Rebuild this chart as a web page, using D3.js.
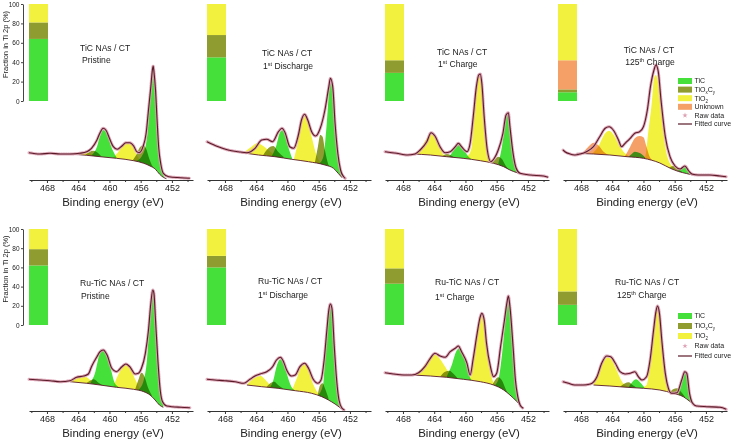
<!DOCTYPE html>
<html>
<head>
<meta charset="utf-8">
<script src="https://cdn.jsdelivr.net/npm/d3@7"></script>
<style>
  body { margin: 0; background: #fff; }
  svg { display: block; font-family: "Liberation Sans", Arial, sans-serif; }
</style>
</head>
<body>
<svg id="chart" width="733" height="440"></svg>
<script>

// ---------- data ----------

const samples = ["TiC NAs / CT", "TiC NAs / CT", "TiC NAs / CT", "TiC NAs / CT",
                 "Ru-TiC NAs / CT", "Ru-TiC NAs / CT", "Ru-TiC NAs / CT", "Ru-TiC NAs / CT"]
const states = ["Pristine", "1^{st} Discharge", "1^{st} Charge", "125^{th} Charge",
                "Pristine", "1^{st} Discharge", "1^{st} Charge", "125^{th} Charge"]

// phase fractions in Ti 2p (%)
const fracTiC     = [64, 45, 29,  9, 62, 60, 43, 21]
const fracTiOxCy  = [17, 23, 13,  3, 17, 12, 16, 14]
const fracUnknown = [ 0,  0,  0, 30,  0,  0,  0,  0]
const fracTiO2    = [19, 32, 58, 58, 21, 28, 41, 65]

const majorTicks = [468, 464, 460, 456, 452]
const minorTicks = [470, 466, 462, 458, 454, 450]
const fractionTicks = [0, 20, 40, 60, 80, 100]

// fitted envelope, [binding energy (eV), intensity (a.u.)]
const fitCurves = [
  [[470.3,27.3],[468.9,26],[467.6,26.7],[466.3,26],[465.0,26],[463.8,26.7],[462.9,28.3],[462.3,31.7],[461.6,40],[461.2,47.3],[460.8,51.7],[460.4,49.3],[460.0,41.7],[459.5,33.3],[459.0,30.7],[458.4,34],[457.9,37.3],[457.4,37.3],[456.9,34],[456.5,28.3],[456.2,27.3],[455.7,33.3],[455.3,46.7],[455.0,70],[454.7,93.3],[454.5,110],[454.4,114],[454.3,108.3],[454.1,90],[453.9,60],[453.7,33.3],[453.4,15],[453.1,6.7],[452.4,3.3],[450.9,2.3],[449.7,1.7]],
  [[470.3,38.3],[468.85,33.3],[467.6,30],[466.3,28.3],[465.2,27.3],[464.15,31.7],[463.3,40],[462.65,40.7],[461.9,38.3],[461.15,48.3],[460.7,51.7],[460.3,47.3],[459.7,33.3],[459.2,31.7],[458.6,45],[458.2,60],[457.8,65.7],[457.4,60],[456.9,48.3],[456.4,44],[455.8,51.7],[455.2,70],[454.7,93.3],[454.5,101.7],[454.2,93.3],[453.9,56.7],[453.55,26.7],[453.2,10],[452.8,3.3],[452.6,1.7]],
  [[470.3,28.3],[468.8,26.7],[467.5,25],[466.45,26],[465.8,30],[464.95,38.3],[464.4,47.3],[463.9,44],[463.25,33.3],[462.6,27.3],[461.95,28.3],[461.3,33.3],[460.9,36.7],[460.5,33.3],[459.8,28.3],[459.4,36.7],[459.0,63.3],[458.6,93.3],[458.3,105],[458.1,106],[457.9,96.7],[457.6,63.3],[457.2,30],[456.75,18.3],[456.3,21.7],[455.8,30],[455.2,46.7],[454.8,65],[454.5,67.3],[454.3,53.3],[453.9,26.7],[453.5,11.7],[453.0,6.7],[451.7,5],[450.0,4],[449.4,2.7]],
  [[470.3,30],[470.05,28.3],[469.4,26],[468.8,25],[468.1,26],[467.3,28.3],[466.4,33.3],[465.6,43.3],[464.9,51.7],[464.4,53.3],[463.8,49.3],[463.2,40],[462.8,33.3],[462.35,36.7],[461.7,41.7],[461.1,46.7],[460.5,48.3],[460.0,53.3],[459.5,70],[459.1,93.3],[458.65,110],[458.4,115],[458.1,108.3],[457.75,80],[457.2,43.3],[456.6,23.3],[455.95,14],[455.3,11],[454.7,14],[454.2,9],[453.8,6],[452.95,5],[451.5,5],[450.2,4],[449.4,3.3]],
  [[470.3,31.7],[468.9,31],[467.6,30.3],[466.3,29.3],[465.05,30.3],[464.2,33.7],[463.3,35],[462.7,37],[462.3,44.3],[461.6,54.3],[461.2,59.3],[460.8,61],[460.3,56],[459.7,42.7],[459.1,39.3],[458.4,44.3],[457.9,47],[457.4,44.3],[456.7,37],[456.3,37.7],[455.9,42.7],[455.4,57.7],[455.0,81],[454.7,107.7],[454.45,121],[454.3,117.7],[454.1,91],[453.8,51],[453.5,21],[453.2,9.3],[452.65,5],[450.9,3.7],[449.7,3.3]],
  [[470.3,31.7],[469.3,31],[468.0,30.3],[466.7,29.3],[465.6,27.7],[464.8,31.7],[464.15,35],[463.5,37],[462.65,39.3],[461.9,44.3],[461.4,51],[460.9,53.7],[460.5,49.3],[460.1,41],[459.5,35],[459.0,36],[458.4,44.3],[457.8,47.7],[457.3,42.7],[456.7,31.7],[456.1,27.7],[455.7,31],[455.3,51],[454.95,81],[454.7,101],[454.5,107],[454.3,102.7],[454.0,64.3],[453.7,31],[453.4,11],[453.0,2.7],[452.7,1]],
  [[470.3,38.3],[469.2,37],[467.9,36],[466.9,36],[466.0,38.3],[465.2,44.3],[464.5,52.7],[463.9,57.7],[463.25,55],[462.6,53.7],[461.95,59.3],[461.3,62.7],[460.9,65],[460.5,59.3],[459.8,47.7],[459.4,36],[459.0,52.7],[458.5,77.7],[458.1,94.3],[457.9,97.7],[457.6,91],[457.3,67.7],[456.8,44.3],[456.4,34.3],[456.0,37.7],[455.5,64.3],[455.0,91],[454.7,107.7],[454.5,115],[454.3,104.3],[453.9,64.3],[453.6,31],[453.3,14.3],[453.0,6],[452.6,2.7]],
  [[470.3,29.3],[469.6,27.7],[468.8,26],[467.7,26],[466.8,27],[465.95,34.3],[465.35,47.7],[464.7,55],[464.2,54.3],[463.6,47.7],[463.0,39.3],[462.35,37],[461.7,37.7],[461.1,39.3],[460.65,34.3],[460.2,31],[459.6,34.3],[459.15,51],[458.7,81],[458.4,99.3],[458.2,105],[457.95,97.7],[457.65,71],[457.2,37.7],[456.8,22.7],[456.4,17.7],[455.7,18.3],[455.1,31],[454.7,39.3],[454.45,37.7],[454.1,17.7],[453.7,7.7],[453.2,5],[451.9,4.3],[450.2,3.7],[449.4,1.7]]
]

// Shirley backgrounds
const backgrounds = [
  [[465.0,26],[462.9,24.7],[461.2,23.3],[459.1,21.7],[456.9,19.3],[455.6,16.7],[454.8,14],[454.1,10.7],[453.6,6],[453.1,2.7],[452.7,1.3]],
  [[465.9,27.3],[463.7,25],[461.6,23.3],[459.45,20.7],[457.3,18.3],[455.2,15],[454.1,11.7],[453.5,6.7],[453.0,2.3]],
  [[466.7,26],[464.5,25],[462.4,23.3],[460.3,21.7],[458.1,19.3],[456.4,16.7],[455.1,13.3],[454.3,10],[453.4,7.3],[452.8,6]],
  [[468.55,26.7],[466.4,26],[464.3,25],[462.1,23.3],[460.0,21.7],[457.9,17],[456.5,11.5],[455.5,8.5],[454.5,6.5],[453.8,5.3],[453.2,5]],
  [[465.05,29.3],[462.9,27.7],[461.2,26],[459.1,23.7],[456.9,21.7],[455.6,19.3],[454.8,16],[454.15,11],[453.6,6],[453.1,3.7]],
  [[465.2,26],[463.3,24.3],[461.2,22.7],[459.0,20.3],[456.9,17.7],[455.6,14.3],[454.75,11],[453.9,7],[453.25,3.3],[452.8,1]],
  [[466.7,36],[464.5,35],[462.4,33.7],[460.25,31.7],[458.1,29.3],[456.4,26],[455.1,21],[454.3,16],[453.4,9.3],[452.8,3.7]],
  [[466.4,26],[464.3,25],[462.1,23.7],[460.0,22.7],[457.9,21],[456.2,17.7],[454.9,14.3],[454.0,9.3],[453.4,6]]
]

// fitted components per panel: [phase, envelope points]
const components = [
  [["TiO2",[[465.0,25.7],[464.0,27.3],[463.1,27.7],[462.3,26],[461.6,24]]],
   ["TiOxCy",[[463.1,25],[462.5,28.3],[462.1,29.3],[461.5,27.3],[461.0,23.3]]],
   ["TiC",[[462.3,24.7],[461.6,33.3],[461.2,44],[460.8,50],[460.3,46.7],[459.8,34],[459.1,22.7]]],
   ["TiO2",[[459.7,21.3],[459.0,26.7],[458.3,34],[457.7,37.3],[457.1,34.7],[456.5,25],[455.9,17.7]]],
   ["TiOxCy",[[457.1,19],[456.5,26],[456.1,32.7],[455.7,34.7],[455.3,31.3],[454.9,21.3],[454.3,11]]],
   ["TiC",[[456.7,18.7],[455.9,23.3],[455.3,36.7],[454.9,70],[454.7,100],[454.4,112.7],[454.3,106.7],[454.1,83.3],[453.9,46.7],[453.6,20],[453.2,6.7],[452.9,2]]]],
  [["TiO2",[[465.6,27.3],[464.6,33.3],[463.9,36.7],[463.1,34],[462.2,28.3],[461.4,24]]],
   ["TiOxCy",[[463.1,25],[462.2,33.3],[461.8,34],[461.2,28.3],[460.5,23.3]]],
   ["TiC",[[462.0,24],[461.4,35],[461.0,46.7],[460.6,50],[460.3,45],[459.9,33.3],[459.4,21.7]]],
   ["TiO2",[[459.2,20],[458.6,40],[458.2,56.7],[457.8,65],[457.4,59.3],[456.9,43.3],[456.2,23.3],[455.6,16.7]]],
   ["TiOxCy",[[456.5,16.7],[456.1,33.3],[455.8,45],[455.5,43.3],[455.2,30],[454.75,15],[454.3,10]]],
   ["TiC",[[456.0,16],[455.4,23.3],[455.0,53.3],[454.65,90],[454.5,97.3],[454.2,90],[453.9,53.3],[453.55,23.3],[453.25,8.3],[452.95,2.3]]]],
  [["TiO2",[[466.45,25],[465.6,33.3],[464.95,41.7],[464.4,46],[463.9,42.7],[463.25,31.7],[462.6,23.3],[461.95,21.7]]],
   ["TiOxCy",[[463.0,23.3],[462.4,26],[461.95,25],[461.3,21.7]]],
   ["TiC",[[462.2,21.7],[461.5,30],[461.0,36],[460.7,36.7],[460.3,31.7],[459.6,23.3],[459.2,20.7]]],
   ["TiO2",[[460.5,20.7],[459.6,25],[459.2,33.3],[458.9,63.3],[458.5,96.7],[458.25,105],[458.0,100],[457.7,70],[457.3,33.3],[456.75,20],[456.2,15]]],
   ["TiOxCy",[[456.6,16.7],[456.2,20.7],[455.8,23.3],[455.3,20.7],[454.9,15],[454.4,10]]],
   ["TiC",[[455.8,16],[455.2,40],[454.9,60],[454.6,66],[454.3,56.7],[453.9,26.7],[453.5,11.7],[453.1,6.7]]]],
  [["Unknown",[[467.9,26],[467.06,33.3],[466.4,37.3],[465.8,35],[465.1,28.3],[464.5,25]]],
   ["TiO2",[[466.6,26],[465.8,33.3],[464.9,46.7],[464.4,49.3],[463.8,45],[463.0,33.3],[462.1,25],[461.5,23.3]]],
   ["TiC",[[461.9,23.3],[461.5,26],[461.1,28.3],[460.4,26.7],[459.8,22.7]]],
   ["Unknown",[[462.35,24],[461.7,33.3],[461.1,41.7],[460.5,44],[460.0,42.7],[459.6,33.3],[459.2,23.3],[458.7,19.3]]],
   ["TiO2",[[460.4,21.7],[459.8,23.3],[459.4,46.7],[458.9,80],[458.65,101.7],[458.4,105],[458.1,96.7],[457.75,70],[457.2,33.3],[456.6,16.7],[455.95,11.7]]],
   ["TiOxCy",[[456.8,11.8],[456.2,14],[455.8,13.5],[455.3,9.5],[454.9,7.3]]],
   ["TiC",[[455.6,9],[455.1,12.5],[454.7,14],[454.4,11],[454.0,5.8]]]],
  [["TiO2",[[465.05,29.3],[464.2,32.7],[463.55,35],[462.9,33.7],[462.0,27.7],[461.4,25.3]]],
   ["TiOxCy",[[463.1,27],[462.5,30.3],[462.0,31.7],[461.4,28.3],[460.8,25.3]]],
   ["TiC",[[462.5,27],[461.8,39.3],[461.3,56],[460.9,60.3],[460.4,57.7],[459.9,44.3],[459.3,27.7],[458.85,24.3]]],
   ["TiO2",[[459.5,24.3],[459.0,34.3],[458.4,42.7],[457.9,46],[457.4,43.7],[456.7,31.7],[456.1,21.7]]],
   ["TiOxCy",[[456.7,21.7],[456.3,31],[455.9,38.3],[455.5,34.3],[455.1,24.3],[454.6,16]]],
   ["TiC",[[456.3,21],[455.6,31],[455.2,51],[454.9,84.3],[454.6,111],[454.45,120.3],[454.3,116],[454.1,91],[453.8,51],[453.5,22.7],[453.2,9.3],[452.9,4.3]]]],
  [["TiO2",[[465.2,26],[464.6,31],[463.9,34.3],[463.4,35],[462.9,31.7],[462.2,26],[461.6,23.3]]],
   ["TiOxCy",[[462.65,24.3],[462.1,28.3],[461.7,29.3],[461.2,26],[460.6,22.7]]],
   ["TiC",[[462.2,23.7],[461.8,31],[461.4,44.3],[460.9,51.7],[460.5,47.7],[460.1,37.7],[459.5,24.3],[459.1,21]]],
   ["TiO2",[[459.45,20.3],[458.8,32.7],[458.25,44.3],[457.8,47.7],[457.4,44.3],[456.9,31],[456.2,19.3],[455.7,16]]],
   ["TiOxCy",[[456.1,17],[455.8,26],[455.5,27.7],[455.2,22.7],[454.75,12.7]]],
   ["TiC",[[456.0,16.3],[455.4,27.7],[455.1,64.3],[454.75,97.7],[454.5,106],[454.3,99.3],[454.0,64.3],[453.7,31],[453.4,11],[453.0,2.7]]]],
  [["TiO2",[[466.7,36],[465.8,41],[464.96,49.3],[464.1,57],[463.5,54.3],[462.6,44.3],[461.75,34.3],[460.9,31.7]]],
   ["TiOxCy",[[463.25,34.3],[462.6,39.3],[462.05,40.3],[461.5,37],[460.9,31.7]]],
   ["TiC",[[462.4,34.3],[461.75,46],[461.2,59.3],[460.8,62.7],[460.3,57.7],[459.8,44.3],[459.3,31.7],[458.9,29.3]]],
   ["TiO2",[[459.8,29.3],[459.2,37.7],[458.6,74.3],[458.2,92.7],[457.95,96],[457.6,89.3],[457.18,61],[456.75,37.7],[456.2,26],[455.55,22.7]]],
   ["TiOxCy",[[456.6,25],[456.2,31],[455.8,33.7],[455.3,30.3],[454.8,21],[454.3,15]]],
   ["TiC",[[456.4,25],[455.8,31],[455.3,57.7],[454.9,91],[454.7,109.3],[454.5,113.7],[454.3,103.7],[453.9,64.3],[453.6,31],[453.3,14.3],[453.0,6]]]],
  [["TiO2",[[466.4,26],[465.8,37.7],[465.1,49.3],[464.6,53.7],[464.1,51.7],[463.45,41],[462.6,27.7],[461.7,23.7]]],
   ["TiOxCy",[[463.0,24.3],[462.35,27.7],[461.9,28.7],[461.4,26],[460.9,23.3]]],
   ["TiC",[[461.9,23.7],[461.4,29.3],[460.95,31.7],[460.5,29.3],[459.9,23.7]]],
   ["TiO2",[[460.4,22.7],[459.6,26],[459.15,47.7],[458.7,81],[458.4,100.3],[458.2,104.3],[457.95,97],[457.65,71],[457.2,37.7],[456.6,21],[455.95,17.7]]],
   ["TiOxCy",[[456.6,18.3],[456.2,21.7],[455.7,22.7],[455.2,19.3],[454.7,14.3]]],
   ["TiC",[[455.5,16],[455.1,27.7],[454.75,37.7],[454.55,39.3],[454.3,34.3],[454.0,17.7],[453.7,8.3]]]]
]

// ---------- layout & style ----------

const colX = [29, 207, 385, 563]
const rowAxisY = [180, 411]
const axisW = 164
const insetTop = [4, 229], insetBottom = [101, 325]
// [x1, y1, x2, y2, anchor] of the two title lines
const titlePos = [
  [80, 51, 82, 62.5, "start"], [262, 56, 263, 69, "start"], [437, 55, 438, 66.5, "start"], [649, 52.5, 650, 64.5, "middle"],
  [80, 285.5, 81, 299, "start"], [258, 284, 258, 298, "start"], [435, 285, 435, 300, "start"], [615, 284.5, 617, 297.5, "start"]
]

const colors = {TiC: "#46e03a", TiOxCy: "#8e9c30", TiO2: "#f2f23e", Unknown: "#f5a066"}
const fitColor = "#5a1a28", rawColor = "#dca2b4", inkColor = "#222"
const stackKeys = ["TiC", "TiOxCy", "Unknown", "TiO2"]

const svg = d3.select("#chart")
svg.append("rect").attr("width", 733).attr("height", 440).attr("fill", "#fff")

const x = d3.scaleLinear().domain([470.3, 449.3]).range([0, axisW])
const y = d3.scaleLinear().domain([0, 100]).range([0, -100])

const curve = d3.line().x(d => x(d[0])).y(d => y(d[1])).curve(d3.curveMonotoneX)
const peakArea = d3.area().x(d => x(d[0])).y0(0).y1(d => y(d[1])).curve(d3.curveMonotoneX)
const aboveBg = d3.area().x(d => x(d[0])).y0(d => y(d[1])).y1(y(190)).curve(d3.curveMonotoneX)

const fractionRows = samples.map((s, i) => ({
  TiC: fracTiC[i], TiOxCy: fracTiOxCy[i], Unknown: fracUnknown[i], TiO2: fracTiO2[i]
}))
const stacked = d3.stack().keys(stackKeys)(fractionRows)

// text with sub / superscripts: "TiO_{x}C_{y}", "1^{st} Charge"
function richText(sel, str, size) {
  const parts = str.match(/[_^]\{[^}]*\}|[^_^]+/g)
  let shift = 0
  parts.forEach(p => {
    const t = sel.append("tspan")
    if (p[0] === "_" || p[0] === "^") {
      const off = (p[0] === "^" ? -0.3 : 0.28) * size
      t.attr("font-size", size * 0.64).attr("dy", off - shift).text(p.slice(2, -1))
      shift = off
    } else {
      if (shift) t.attr("dy", -shift)
      shift = 0
      t.text(p)
    }
  })
}
const labelOf = {TiC: "TiC", TiOxCy: "TiO_{x}C_{y}", TiO2: "TiO_{2}", Unknown: "Unknown",
                 raw: "Raw data", fit: "Fitted curve"}

samples.forEach((sample, i) => {
  const row = Math.floor(i / 4), col = i % 4
  const g = svg.append("g").attr("transform", `translate(${colX[col]},${rowAxisY[row]})`)

  // components, clipped to lie above the background
  const clipId = "above" + i
  svg.append("clipPath").attr("id", clipId).append("path").attr("d", aboveBg(backgrounds[i]))
  const peaks = g.append("g").attr("clip-path", `url(#${clipId})`)
  components[i].forEach(([phase, pts]) => {
    peaks.append("path")
      .attr("d", peakArea(pts))
      .attr("fill", colors[phase])
      .style("mix-blend-mode", "multiply")
  })

  g.append("path").attr("d", curve(backgrounds[i]))
    .attr("fill", "none").attr("stroke", fitColor).attr("stroke-width", 0.9)

  // raw data (dotted halo) and fitted curve
  g.append("path").attr("d", curve(fitCurves[i]))
    .attr("fill", "none").attr("stroke", rawColor).attr("stroke-width", 3)
    .attr("stroke-dasharray", "1.2 1.1").attr("stroke-linecap", "round").attr("opacity", 0.9)
  g.append("path").attr("d", curve(fitCurves[i]))
    .attr("fill", "none").attr("stroke", fitColor).attr("stroke-width", 1.1)

  // x axis
  const major = g.append("g")
    .call(d3.axisBottom(x).tickValues(majorTicks).tickSize(3).tickSizeOuter(0).tickPadding(2))
  major.attr("font-family", null).attr("font-size", 9)
  major.select(".domain").attr("stroke", "#333")
  major.selectAll(".tick line").attr("stroke", "#333")
  major.selectAll(".tick text").attr("fill", inkColor)
  const minor = g.append("g")
    .call(d3.axisBottom(x).tickValues(minorTicks).tickSize(2).tickFormat(""))
  minor.select(".domain").remove()
  minor.selectAll(".tick line").attr("stroke", "#333")

  g.append("text").attr("x", axisW / 2 + 2).attr("y", 26)
    .attr("text-anchor", "middle").attr("font-size", 11.5).attr("fill", inkColor)
    .text("Binding energy (eV)")

  // stacked fraction bar
  const fy = d3.scaleLinear().domain([0, 100]).range([insetBottom[row], insetTop[row]])
  const barX = colX[col] + (col === 3 ? -5 : 0)
  stacked.forEach(layer => {
    const v = layer[i]
    if (v[1] - v[0] <= 0) return
    svg.append("rect")
      .attr("x", barX).attr("width", 19)
      .attr("y", fy(v[1])).attr("height", fy(v[0]) - fy(v[1]))
      .attr("fill", colors[layer.key])
  })
  if (col === 0) {
    const ya = svg.append("g").attr("transform", `translate(${colX[col] - 6},0)`)
      .call(d3.axisLeft(fy).tickValues(fractionTicks).tickSize(2).tickSizeOuter(0).tickPadding(1.5))
    ya.attr("font-family", null).attr("font-size", 6.5)
    ya.select(".domain").attr("stroke", "#444")
    ya.selectAll(".tick line").attr("stroke", "#444")
    ya.selectAll(".tick text").attr("fill", inkColor)
    const cy = (insetTop[row] + insetBottom[row]) / 2 - 8
    svg.append("text").attr("transform", `translate(8,${cy}) rotate(-90)`)
      .attr("text-anchor", "middle").attr("font-size", 7.5).attr("fill", inkColor)
      .text("Fraction in Ti 2p (%)")
  }

  // titles
  const [tx1, ty1, tx2, ty2, anchor] = titlePos[i]
  svg.append("text").attr("x", tx1).attr("y", ty1).attr("text-anchor", anchor)
    .attr("font-size", 8.6).attr("fill", inkColor).text(sample)
  const st = svg.append("text").attr("x", tx2).attr("y", ty2).attr("text-anchor", anchor)
    .attr("font-size", 8.6).attr("fill", inkColor)
  richText(st, states[i], 8.6)

  // legend in the last column
  if (col === 3) {
    const items = row === 0
      ? ["TiC", "TiOxCy", "TiO2", "Unknown", "raw", "fit"]
      : ["TiC", "TiOxCy", "TiO2", "raw", "fit"]
    const step = row === 0 ? 8.6 : 10
    const y0 = row === 0 ? 81 : 316
    items.forEach((it, k) => {
      const cy = y0 + k * step
      if (colors[it]) {
        svg.append("rect").attr("x", 678).attr("y", cy - 3).attr("width", 14).attr("height", 6)
          .attr("fill", colors[it])
      } else if (it === "raw") {
        svg.append("path").attr("d", d3.symbol(d3.symbolStar, 9)())
          .attr("transform", `translate(685,${cy})`).attr("fill", rawColor)
      } else {
        svg.append("line").attr("x1", 678).attr("x2", 692).attr("y1", cy).attr("y2", cy)
          .attr("stroke", fitColor).attr("stroke-width", 1.2)
      }
      const t = svg.append("text").attr("x", 694.5).attr("y", cy + 2.4)
        .attr("font-size", 7).attr("fill", inkColor)
      richText(t, labelOf[it], 7)
    })
  }
})
</script>
</body>
</html>
